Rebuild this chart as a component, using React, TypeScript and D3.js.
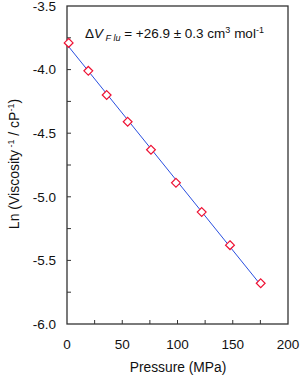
import { useEffect, useRef } from "react";
import { scaleLinear, select, line, range } from "d3";

const pressure = [1.5, 19.3, 35.9, 54.9, 76, 98.6, 121.9, 147.5, 175.3];
const lnViscosity = [-3.79, -4.01, -4.2, -4.41, -4.63, -4.89, -5.12, -5.38, -5.68];
const xTickLabels = [0, 50, 100, 150, 200];
const yTickLabels = [-3.5, -4.0, -4.5, -5.0, -5.5, -6.0];

export default function App() {
  const svgRef = useRef<SVGSVGElement | null>(null);

  useEffect(() => {
    if (!svgRef.current) return;
    const svg = select(svgRef.current);
    svg.selectAll("*").remove();

    const left = 67;
    const right = 288;
    const top = 6;
    const bottom = 324;
    const font = "Liberation Sans, Arial, sans-serif";

    const x = scaleLinear().domain([0, 200]).range([left, right]);
    const y = scaleLinear().domain([-6, -3.5]).range([bottom, top]);

    // least squares fit line
    const n = pressure.length;
    const mx = pressure.reduce((a, b) => a + b, 0) / n;
    const my = lnViscosity.reduce((a, b) => a + b, 0) / n;
    let sxy = 0;
    let sxx = 0;
    pressure.forEach((p, i) => {
      sxy += (p - mx) * (lnViscosity[i] - my);
      sxx += (p - mx) * (p - mx);
    });
    const slope = sxy / sxx;
    const icpt = my - slope * mx;
    const x0 = pressure[0];
    const x1 = pressure[n - 1];

    const g = svg.append("g");

    g.append("rect")
      .attr("x", left)
      .attr("y", top)
      .attr("width", right - left)
      .attr("height", bottom - top)
      .attr("fill", "none")
      .attr("stroke", "#333")
      .attr("stroke-width", 1.3);

    // ticks (inward)
    range(25, 200, 25).forEach((v) => {
      g.append("line")
        .attr("x1", x(v))
        .attr("x2", x(v))
        .attr("y1", bottom)
        .attr("y2", bottom - 4)
        .attr("stroke", "#333");
    });
    range(-5.75, -3.5, 0.25).forEach((v) => {
      g.append("line")
        .attr("x1", left)
        .attr("x2", left + 4)
        .attr("y1", y(v))
        .attr("y2", y(v))
        .attr("stroke", "#333");
    });

    g.selectAll("text.xt")
      .data(xTickLabels)
      .join("text")
      .attr("x", (d) => x(d))
      .attr("y", bottom + 25)
      .attr("text-anchor", "middle")
      .attr("font-family", font)
      .attr("font-size", 13.5)
      .attr("fill", "#111")
      .text((d) => String(d));

    g.selectAll("text.yt")
      .data(yTickLabels)
      .join("text")
      .attr("x", left - 11)
      .attr("y", (d) => y(d) + 4.8)
      .attr("text-anchor", "end")
      .attr("font-family", font)
      .attr("font-size", 13.5)
      .attr("fill", "#111")
      .text((d) => d.toFixed(1));

    g.append("text")
      .attr("x", (left + right) / 2 + 0.5)
      .attr("y", 372)
      .attr("text-anchor", "middle")
      .attr("font-family", font)
      .attr("font-size", 13.8)
      .attr("fill", "#111")
      .text("Pressure (MPa)");

    const yl = g
      .append("text")
      .attr("transform", `translate(19, 164) rotate(-90)`)
      .attr("text-anchor", "middle")
      .attr("font-family", font)
      .attr("font-size", 14)
      .attr("fill", "#111");
    yl.append("tspan").text("Ln (Viscosity");
    yl.append("tspan").attr("dy", -5).attr("font-size", 9).text(" -1");
    yl.append("tspan").attr("dy", 5).text("  / cP");
    yl.append("tspan").attr("dy", -5).attr("font-size", 9).text("-1");
    yl.append("tspan").attr("dy", 5).text(")");

    const ann = g
      .append("text")
      .attr("x", 85)
      .attr("y", 38)
      .attr("font-family", font)
      .attr("font-size", 13.5)
      .attr("fill", "#111");
    ann.append("tspan").text("\u0394");
    ann.append("tspan").attr("font-style", "italic").text("V");
    ann.append("tspan").attr("dy", 3).attr("font-size", 9).attr("font-style", "italic").text(" F lu");
    ann.append("tspan").attr("dy", -3).text(" = +26.9 \u00b1 0.3 cm");
    ann.append("tspan").attr("dy", -5).attr("font-size", 9).text("3");
    ann.append("tspan").attr("dy", 5).text(" mol");
    ann.append("tspan").attr("dy", -5).attr("font-size", 9).text("-1");

    const fit = line<number>()
      .x((d) => x(d))
      .y((d) => y(icpt + slope * d));
    g.append("path")
      .attr("d", fit([x0, x1]))
      .attr("fill", "none")
      .attr("stroke", "#2a4fe0")
      .attr("stroke-width", 1);

    const r = 4.4;
    g.selectAll("path.pt")
      .data(pressure)
      .join("path")
      .attr("class", "pt")
      .attr("d", (d, i) => {
        const cx = x(d);
        const cy = y(lnViscosity[i]);
        return `M${cx},${cy - r}L${cx + r},${cy}L${cx},${cy + r}L${cx - r},${cy}Z`;
      })
      .attr("fill", "#fff")
      .attr("stroke", "#ee1133")
      .attr("stroke-width", 1.2);
  }, []);

  return (
    <svg
      ref={svgRef}
      width={300}
      height={377}
      style={{ position: "absolute", left: 0, top: 0, background: "#fff" }}
    />
  );
}
